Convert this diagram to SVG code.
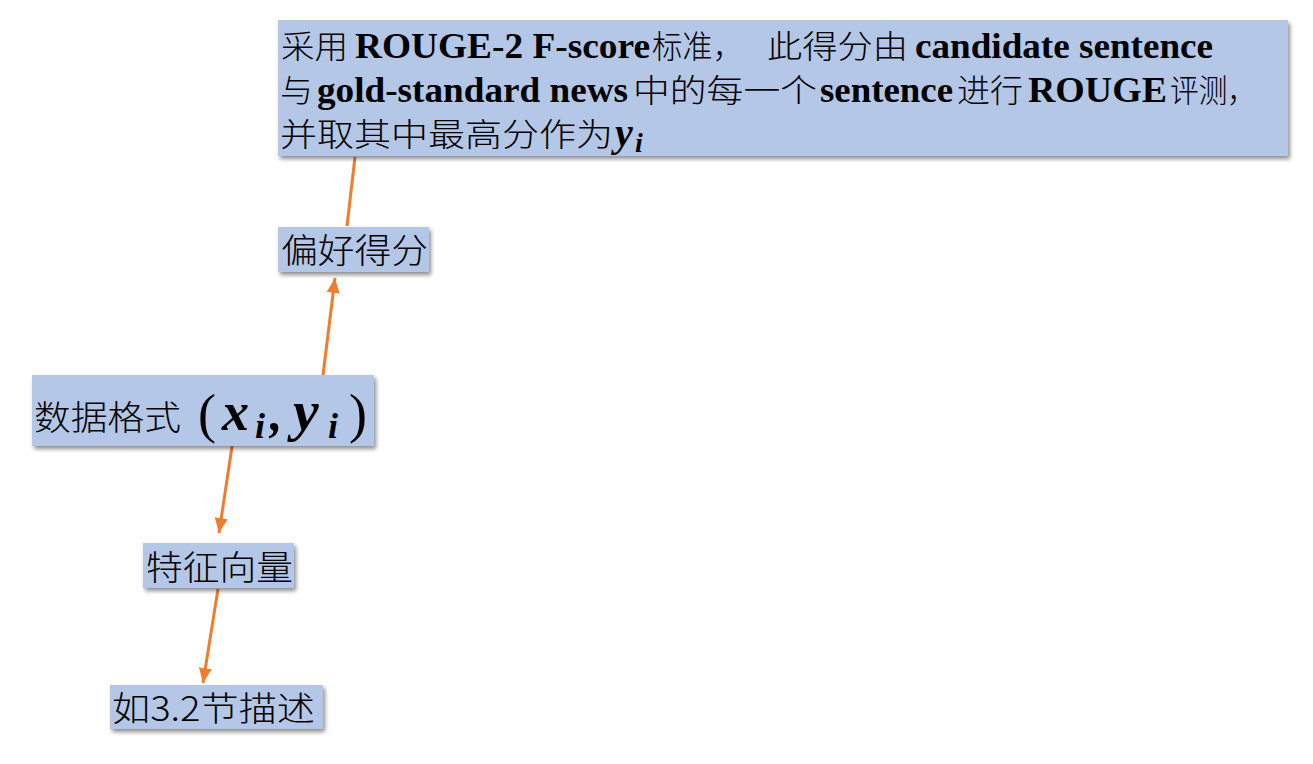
<svg xmlns="http://www.w3.org/2000/svg" width="1313" height="764" viewBox="0 0 1313 764">
<style>
.box{fill:#b4c7e7;filter:url(#sh)}
.cjk{font-family:"Noto Sans CJK SC","Noto Sans",sans-serif;font-weight:300;fill:#000}
.lat{font-family:"Liberation Serif",serif;font-weight:bold;fill:#000}
.math{font-family:"Liberation Serif",serif;font-weight:bold;font-style:italic;fill:#000}
.par{font-family:"Liberation Serif",serif;fill:#000}
.conn{stroke:#ed7d31;stroke-width:3;fill:none}
</style>
<defs>
<filter id="sh" x="-10%" y="-20%" width="120%" height="150%">
<feGaussianBlur in="SourceAlpha" stdDeviation="2"/>
<feOffset dx="2" dy="3" result="b"/>
<feComponentTransfer><feFuncA type="linear" slope="0.45"/></feComponentTransfer>
<feMerge><feMergeNode/><feMergeNode in="SourceGraphic"/></feMerge>
</filter>
<marker id="ah" markerUnits="userSpaceOnUse" markerWidth="16" markerHeight="16" viewBox="0 0 16 16" refX="15" refY="8" orient="auto">
<path d="M0,1.5 L15,8 L0,14.5 Z" fill="#ed7d31"/>
</marker>
</defs>
<g id="connectors">
<line class="conn" x1="355" y1="157" x2="347" y2="226"/>
<line class="conn" x1="323" y1="375" x2="335" y2="278" marker-end="url(#ah)"/>
<line class="conn" x1="233" y1="440" x2="219" y2="533" marker-end="url(#ah)"/>
<line class="conn" x1="218" y1="589" x2="203" y2="683" marker-end="url(#ah)"/>
</g>
<g id="node-desc">
<rect class="box" x="278" y="20" width="1010" height="136"/>
<text y="58" font-size="32">
<tspan class="cjk" x="281" textLength="67" lengthAdjust="spacingAndGlyphs">采用</tspan><tspan class="lat" x="355" font-size="36" textLength="295" lengthAdjust="spacingAndGlyphs">ROUGE-2 F-score</tspan><tspan class="cjk" x="652" textLength="91" lengthAdjust="spacingAndGlyphs">标准，</tspan><tspan class="cjk" x="767" textLength="141" lengthAdjust="spacingAndGlyphs">此得分由</tspan><tspan class="lat" x="915" font-size="36" textLength="298" lengthAdjust="spacingAndGlyphs">candidate sentence</tspan>
</text>
<text y="102" font-size="32">
<tspan class="cjk" x="280" textLength="33" lengthAdjust="spacingAndGlyphs">与</tspan><tspan class="lat" x="317" font-size="36" textLength="311" lengthAdjust="spacingAndGlyphs">gold-standard news</tspan><tspan class="cjk" x="633" textLength="184" lengthAdjust="spacingAndGlyphs">中的每一个</tspan><tspan class="lat" x="820" font-size="36" textLength="133" lengthAdjust="spacingAndGlyphs">sentence</tspan><tspan class="cjk" x="957" textLength="66" lengthAdjust="spacingAndGlyphs">进行</tspan><tspan class="lat" x="1028" font-size="36" textLength="139" lengthAdjust="spacingAndGlyphs">ROUGE</tspan><tspan class="cjk" x="1170" textLength="86" lengthAdjust="spacingAndGlyphs">评测，</tspan>
</text>
<text y="146" font-size="32">
<tspan class="cjk" x="280" textLength="333" lengthAdjust="spacingAndGlyphs">并取其中最高分作为</tspan><tspan class="math" x="615" font-size="40">y</tspan><tspan class="math" x="635" font-size="28" dy="6">i</tspan>
</text>
</g>
<g id="node-score">
<rect class="box" x="278" y="227" width="151" height="45"/>
<text class="cjk" x="281" y="263" font-size="34" textLength="147" lengthAdjust="spacingAndGlyphs">偏好得分</text>
</g>
<g id="node-format">
<rect class="box" x="32" y="375" width="342" height="71"/>
<text y="430" font-size="34"><tspan class="cjk" x="34" textLength="147" lengthAdjust="spacingAndGlyphs">数据格式</tspan><tspan class="par" x="198" font-size="54" dy="2">(</tspan><tspan class="math" x="222" font-size="54" dy="-2">x</tspan><tspan class="math" x="255" font-size="36" dy="8">i</tspan><tspan class="math" x="270" font-size="50" dy="-8">,</tspan><tspan class="math" x="293" font-size="58">y</tspan><tspan class="math" x="328" font-size="36" dy="8">i</tspan><tspan class="par" x="349" font-size="54" dy="-6">)</tspan></text>
</g>
<g id="node-feature">
<rect class="box" x="143" y="543" width="151" height="45"/>
<text class="cjk" x="146" y="580" font-size="34" textLength="147" lengthAdjust="spacingAndGlyphs">特征向量</text>
</g>
<g id="node-ref">
<rect class="box" x="110" y="685" width="213" height="44"/>
<text class="cjk" x="112" y="721" font-size="34" textLength="203" lengthAdjust="spacingAndGlyphs">如3.2节描述</text>
</g>
</svg>
